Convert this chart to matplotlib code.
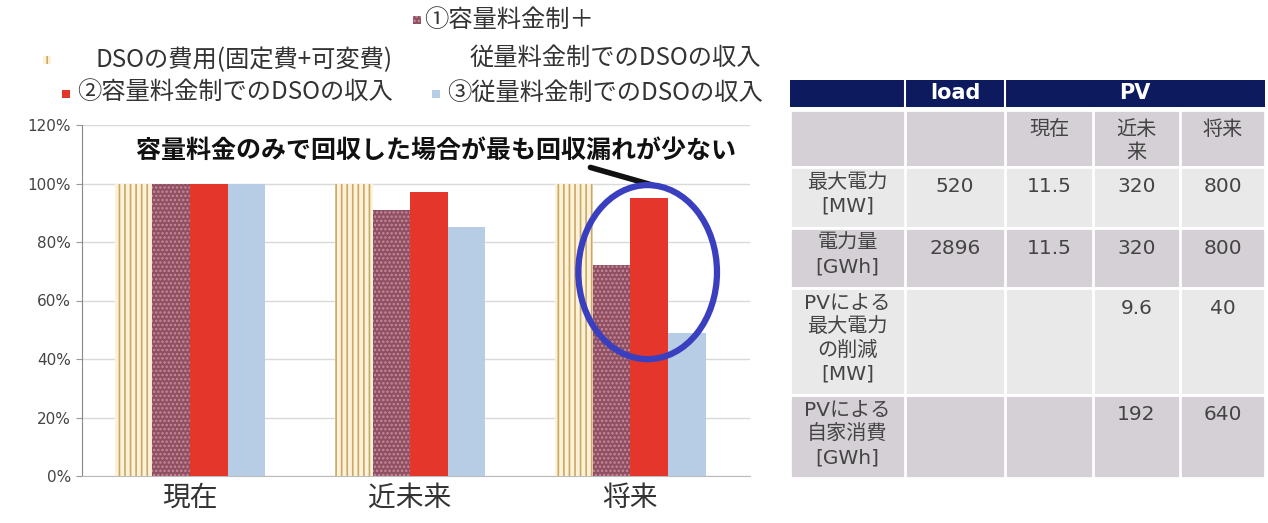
import matplotlib

matplotlib.use("Agg")
import matplotlib.pyplot as plt
import numpy as np
from matplotlib.patches import Ellipse, Rectangle

plt.rcParams["font.family"] = ["Noto Sans CJK JP", "DejaVu Sans"]
plt.rcParams["hatch.linewidth"] = 1.2

# --- chart data (share of DSO cost recovered, %) ---
categories = ["現在", "近未来", "将来"]
series_names = [
    "DSOの費用(固定費+可変費)",
    "①容量料金制＋\n従量料金制でのDSOの収入",
    "②容量料金制でのDSOの収入",
    "③従量料金制でのDSOの収入",
]
dso_cost = [100, 100, 100]
capacity_plus_volume = [100, 91, 72]
capacity_only = [100, 97, 95]
volume_only = [100, 85, 49]
y_ticks = [0, 20, 40, 60, 80, 100, 120]
note = "容量料金のみで回収した場合が最も回収漏れが少ない"

# --- table data ---
table_header = ["load", "PV"]
table_subheader = ["現在", "近未\n来", "将来"]
row_labels = ["最大電力\n[MW]", "電力量\n[GWh]", "PVによる\n最大電力\nの削減\n[MW]", "PVによる\n自家消費\n[GWh]"]
load_values = ["520", "2896", "", ""]
pv_now = ["11.5", "11.5", "", ""]
pv_near = ["320", "320", "9.6", "192"]
pv_future = ["800", "800", "40", "640"]

W, H = 1268, 523
fig = plt.figure(figsize=(W / 100, H / 100), dpi=100)


def px_box(x0, y0, x1, y1):
    return [x0 / W, 1 - y1 / H, (x1 - x0) / W, (y1 - y0) / H]


ax = fig.add_axes(px_box(82, 125, 750, 476))
x = np.arange(len(categories))
width = 0.17
styles = [
    dict(color="#fdf1d6", edgecolor="#c9a86a", hatch="|||", linewidth=0),
    dict(color="#8e4f62", edgecolor="#c78a99", hatch="....", linewidth=0),
    dict(color="#e5362c", linewidth=0),
    dict(color="#b7cde6", linewidth=0),
]
values = [dso_cost, capacity_plus_volume, capacity_only, volume_only]
offsets = [-0.255, -0.085, 0.087, 0.258]
for vals, off, st in zip(values, offsets, styles):
    ax.bar(x + off, vals, width, zorder=3, **st)

ax.set_xlim(-0.49, 2.545)
ax.set_ylim(0, 120)
ax.set_yticks(y_ticks)
ax.set_yticklabels([f"{t}%" for t in y_ticks], fontsize=11, color="#444444", family=["DejaVu Sans"])
ax.set_xticks(x)
ax.set_xticklabels(categories, fontsize=20, color="#333333")
ax.tick_params(axis="x", length=0, pad=5)
ax.tick_params(axis="y", length=4, color="#999999", pad=4)
ax.yaxis.grid(True, color="#d9d9d9", linewidth=1, zorder=0)
for side in ["top", "right"]:
    ax.spines[side].set_visible(False)
ax.spines["left"].set_color("#888888")
ax.spines["bottom"].set_color("#bbbbbb")

ax.text(1.12, 111, note, ha="center", va="center", fontsize=18, fontweight="bold", color="#111111", zorder=5)
ax.plot([1.82, 2.1], [105.5, 99.5], color="#111111", linewidth=4, solid_capstyle="round", zorder=5)
ax.add_patch(Ellipse((2.08, 69.7), 0.63, 59.5, fill=False, edgecolor="#3a3fbf", linewidth=4.5, zorder=6))

# --- legend drawn as free text at the top ---
lax = fig.add_axes([0, 0, 1, 1])
lax.set_xlim(0, W)
lax.set_ylim(H, 0)
lax.axis("off")
legend_pos = [(47, 60, 95, 60), (417, 20, 424, 20), (66, 94, 77, 92), (436, 94, 447, 93)]
for name, st, (mx, my, tx, ty) in zip(series_names, styles, legend_pos):
    lax.add_patch(Rectangle((mx - 4, my - 4), 8, 8, facecolor=st["color"], edgecolor=st.get("edgecolor", st["color"]),
                            hatch=st.get("hatch"), linewidth=0))
    lines = name.split("\n")
    lax.text(tx, ty, lines[0], ha="left", va="center", fontsize=17.5, color="#333333")
    if len(lines) > 1:
        lax.text(470, 58, lines[1], ha="left", va="center", fontsize=17.5, color="#333333")

# --- table on the right ---
col_edges = [790, 905, 1005, 1093, 1180, 1265]
row_edges = [110, 167, 228, 288, 395, 478]
navy = "#0d1a5e"
dark_row, light_row = "#d5d0d5", "#e9e9e9"
lax.add_patch(Rectangle((col_edges[0], 80), col_edges[-1] - col_edges[0], 27, facecolor=navy, edgecolor="none"))
for xe in col_edges[1:3]:
    lax.plot([xe, xe], [80, 107], color="white", linewidth=1.5)
head_kw = dict(ha="center", va="center", fontsize=15, fontweight="bold", color="white", family=["DejaVu Sans"])
lax.text((col_edges[1] + col_edges[2]) / 2, 93, table_header[0], **head_kw)
lax.text((col_edges[2] + col_edges[5]) / 2, 93, table_header[1], **head_kw)

for r in range(len(row_edges) - 1):
    y0, y1 = row_edges[r], row_edges[r + 1]
    lax.add_patch(Rectangle((col_edges[0], y0), col_edges[-1] - col_edges[0], y1 - y0,
                            facecolor=dark_row if r % 2 == 0 else light_row, edgecolor="white", linewidth=2))
    for xe in col_edges[1:-1]:
        lax.plot([xe, xe], [y0, y1], color="white", linewidth=2)

text_kw = dict(fontsize=14.5, color="#444444", linespacing=1.3, family=["DejaVu Sans", "Noto Sans CJK JP"])
for i, lab in enumerate(table_subheader):
    cx = (col_edges[2 + i] + col_edges[3 + i]) / 2
    lax.text(cx, row_edges[0] + 10, lab, ha="center", va="top", **text_kw)

for r, lab in enumerate(row_labels):
    top = row_edges[r + 1]
    lax.text((col_edges[0] + col_edges[1]) / 2, top + 6, lab, ha="center", va="top", **text_kw)
    for c, col in enumerate([load_values, pv_now, pv_near, pv_future]):
        cx = (col_edges[1 + c] + col_edges[2 + c]) / 2
        lax.text(cx, top + 20, col[r], ha="center", va="center", **text_kw)

fig.savefig("out.png", dpi=100)
